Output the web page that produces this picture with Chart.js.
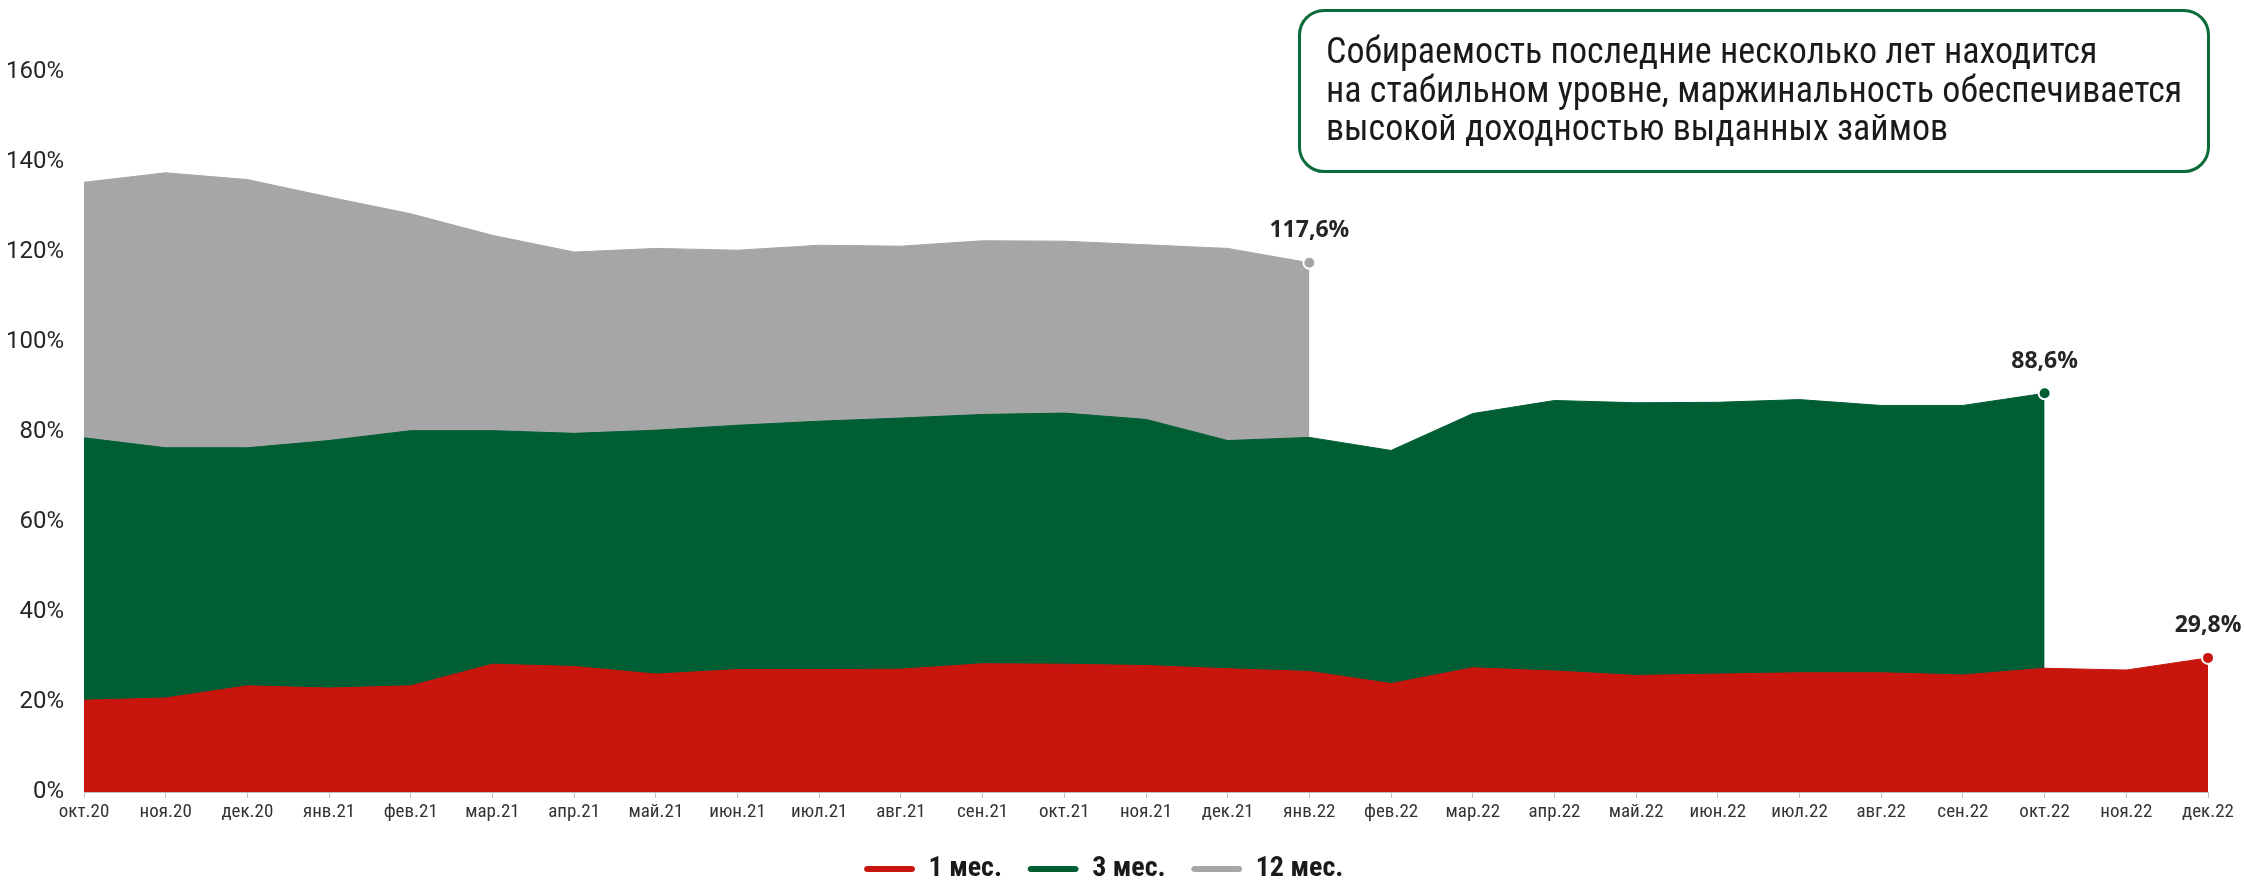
<!DOCTYPE html>
<html>
<head>
<meta charset="utf-8">
<script src="https://cdn.jsdelivr.net/npm/chart.js@4"></script>
<style>
html,body{margin:0;padding:0;background:#fff;}
#wrap{position:relative;width:2245px;height:881px;overflow:hidden;}
#c{position:absolute;left:0;top:0;}
#note{position:absolute;left:1298px;top:9px;width:912px;height:164px;border:3px solid #0B6B38;border-radius:26px;box-sizing:border-box;
 font-family:"Roboto Condensed",Roboto,sans-serif;font-size:36px;line-height:38.7px;color:#1a1a1a;padding:20px 0 0 25px;white-space:nowrap;}
</style>
</head>
<body>
<div id="wrap">
<canvas id="c" width="2245" height="881"></canvas>
<div id="note">Собираемость последние несколько лет находится<br>на стабильном уровне, маржинальность обеспечивается<br>высокой доходностью выданных займов</div>
</div>
<script>
const categories = ['окт.20','ноя.20','дек.20','янв.21','фев.21','мар.21','апр.21','май.21','июн.21','июл.21','авг.21','сен.21','окт.21','ноя.21','дек.21','янв.22','фев.22','мар.22','апр.22','май.22','июн.22','июл.22','авг.22','сен.22','окт.22','ноя.22','дек.22'];
const series1m = [20.4,20.9,23.6,23.1,23.6,28.4,27.9,26.2,27.2,27.2,27.3,28.5,28.4,28.1,27.4,26.8,24.1,27.6,26.9,25.9,26.2,26.5,26.5,26.0,27.5,27.1,29.8];
const series3m = [78.7,76.5,76.5,78.1,80.3,80.3,79.7,80.4,81.5,82.4,83.1,83.9,84.2,82.8,78.1,78.8,75.9,84.1,87.0,86.5,86.6,87.2,85.9,85.9,88.6];
const series12m = [135.5,137.6,136.1,132.2,128.5,123.7,120.0,120.8,120.4,121.5,121.3,122.5,122.4,121.6,120.8,117.6];
const seriesNames = ['1 мес.','3 мес.','12 мес.'];
const yTicks = [0,20,40,60,80,100,120,140,160];

const colors = ['#C8160F','#005E35','#A6A6A6'];
const fmt = v => v.toFixed(1).replace('.', ',') + '%';

function mkDataset(name, data, color){
  return {
    label: name, data: data, fill: 'origin',
    backgroundColor: color, borderColor: color, borderWidth: 1, tension: 0,
    pointRadius: ctx => ctx.dataIndex === data.length - 1 ? 6 : 0,
    pointHoverRadius: 0,
    pointBackgroundColor: color, pointBorderColor: '#ffffff', pointBorderWidth: 2
  };
}

const endLabels = {
  id: 'endLabels',
  afterDatasetsDraw(chart){
    const ctx = chart.ctx;
    chart.data.datasets.forEach((ds, i) => {
      const meta = chart.getDatasetMeta(i);
      const idx = ds.data.length - 1;
      const pt = meta.data[idx];
      ctx.save();
      ctx.font = 'bold 23px "Open Sans", Roboto, sans-serif';
      ctx.fillStyle = '#262626';
      ctx.textAlign = 'center';
      ctx.textBaseline = 'middle';
      ctx.fillText(fmt(ds.data[idx]), pt.x, pt.y - 32);
      ctx.restore();
    });
  }
};

const chart = new Chart(document.getElementById('c'), {
  type: 'line',
  data: {
    labels: categories,
    datasets: [
      mkDataset(seriesNames[0], series1m, colors[0]),
      mkDataset(seriesNames[1], series3m, colors[1]),
      mkDataset(seriesNames[2], series12m, colors[2])
    ]
  },
  options: {
    responsive: false, animation: false,
    layout: { padding: { top: 72, right: 37, left: 0, bottom: 0 } },
    plugins: {
      tooltip: { enabled: false },
      legend: {
        position: 'bottom',
        labels: {
          boxWidth: 50, boxHeight: 5, padding: 26,
          useBorderRadius: true, borderRadius: 2.5,
          color: '#1a1a1a',
          font: { family: '"Roboto Condensed", Roboto, sans-serif', size: 28, weight: 'bold' }
        }
      }
    },
    scales: {
      x: {
        offset: false,
        grid: { display: true, drawOnChartArea: false, drawTicks: true, tickLength: 6, color: '#BFBFBF' },
        border: { display: true, color: '#BFBFBF', width: 1 },
        ticks: { color: '#333333', padding: 3, maxRotation: 0, autoSkip: false,
          font: { family: '"Roboto Condensed", Roboto, sans-serif', size: 19 } },
        afterFit: s => { s.height = 37; }
      },
      y: {
        min: 0, max: 160,
        afterBuildTicks: s => { s.ticks = yTicks.map(v => ({ value: v })); },
        grid: { display: false, drawTicks: false },
        border: { display: false },
        ticks: { color: '#262626', padding: 20, callback: v => v + '%',
          font: { family: 'Roboto, sans-serif', size: 24 } },
        afterFit: s => { s.width = 84; }
      }
    }
  },
  plugins: [endLabels]
});

const origFit = chart.legend.fit;
chart.legend.fit = function(){ origFit.call(this); this.height = 52; };
chart.scales.x._computeLabelArea = function(){
  return { top: 0, left: 0, bottom: this.chart.height, right: this.chart.width };
};
chart.update('none');
</script>
</body>
</html>
